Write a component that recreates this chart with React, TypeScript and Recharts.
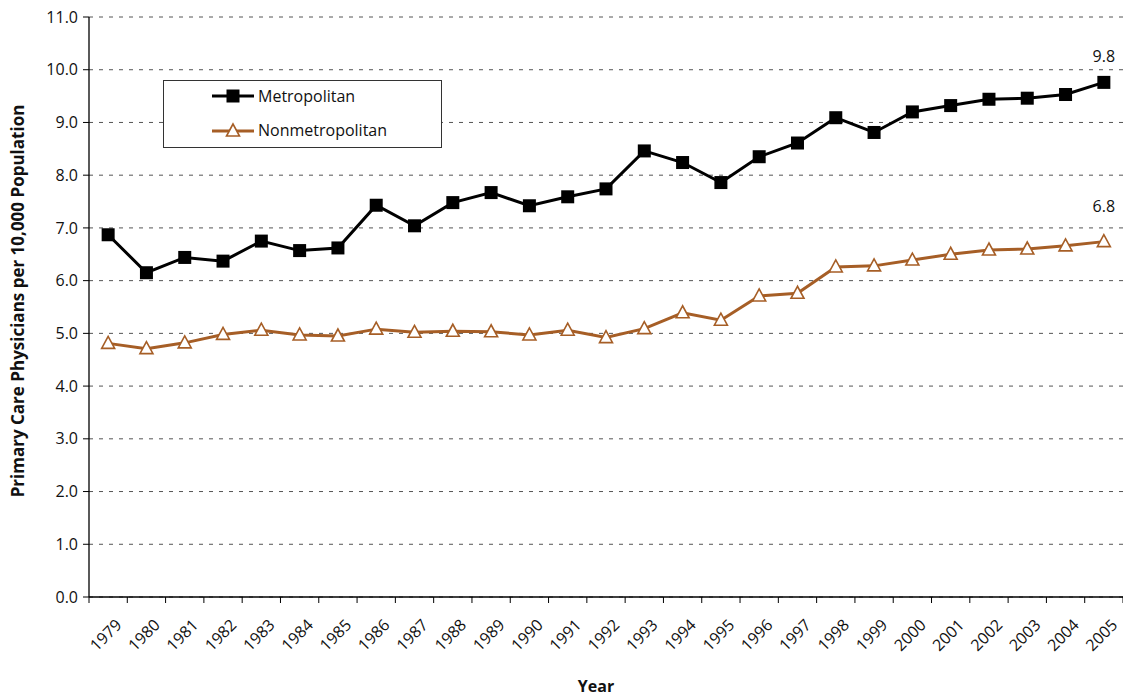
import React from 'react';
import { LineChart, Line, XAxis, YAxis, CartesianGrid, Legend, LabelList } from 'recharts';

const years = [
  1979, 1980, 1981, 1982, 1983, 1984, 1985, 1986, 1987, 1988, 1989, 1990, 1991, 1992,
  1993, 1994, 1995, 1996, 1997, 1998, 1999, 2000, 2001, 2002, 2003, 2004, 2005,
];
const metropolitan = [
  6.87, 6.15, 6.44, 6.37, 6.75, 6.57, 6.62, 7.43, 7.04, 7.48, 7.67, 7.42, 7.59, 7.74,
  8.46, 8.24, 7.86, 8.35, 8.61, 9.09, 8.81, 9.2, 9.32, 9.44, 9.46, 9.53, 9.76,
];
const nonmetropolitan = [
  4.81, 4.71, 4.82, 4.98, 5.06, 4.97, 4.95, 5.08, 5.02, 5.04, 5.03, 4.97, 5.06, 4.92,
  5.09, 5.39, 5.25, 5.71, 5.76, 6.26, 6.28, 6.39, 6.5, 6.58, 6.6, 6.66, 6.74,
];
const endLabels = { metro: '9.8', nonmetro: '6.8' };
const yTicks = [0, 1, 2, 3, 4, 5, 6, 7, 8, 9, 10, 11];
// tick marks sit on the year boundaries, labels go in between
const xBoundaries = [...years.map((y) => y - 0.5), years[years.length - 1] + 0.5];

const data = years.map((year, i) => ({
  year,
  metro: metropolitan[i],
  nonmetro: nonmetropolitan[i],
}));

const W = 1123;
const H = 696;
const LEFT = 89;
const BOTTOM_H = 99;
const HALF_BAND = (W - LEFT) / years.length / 2;
const FONT = '"Open Sans", sans-serif';
const BROWN = '#A65E26';

const SquareDot = ({ cx, cy }: any) => (
  <rect x={cx - 6.5} y={cy - 6.5} width={13} height={13} fill="#000" />
);

const TriangleDot = ({ cx, cy }: any) => (
  <polygon
    points={`${cx},${cy - 7} ${cx - 6.5},${cy + 5} ${cx + 6.5},${cy + 5}`}
    fill="#fff"
    stroke={BROWN}
    strokeWidth={1.6}
  />
);

const YearTick = ({ x, y, payload }: any) => {
  const year = payload.value + 0.5;
  if (year > years[years.length - 1]) return null;
  const tx = x + HALF_BAND + 14.5;
  const ty = y + 23;
  return (
    <text x={tx} y={ty} textAnchor="end" transform={`rotate(-45 ${tx} ${ty})`}
      fontFamily={FONT} fontSize={16} fill="#111">
      {year}
    </text>
  );
};

const lastLabel = (text: string, lift: number) => (props: any) => {
  const { x, y, index } = props;
  if (index !== years.length - 1) return null;
  return (
    <text x={x} y={y - lift} textAnchor="middle" fontFamily={FONT} fontSize={16} fill="#111">
      {text}
    </text>
  );
};

const LegendBox = () => (
  <div style={{
    width: 279, height: 68, border: '1px solid #333', background: '#fff',
    fontFamily: FONT, fontSize: 16, color: '#111', boxSizing: 'border-box',
  }}>
    <div style={{ display: 'flex', alignItems: 'center', position: 'absolute', left: 49, top: 5 }}>
      <svg width={44} height={20}>
        <line x1={0} y1={10} x2={42} y2={10} stroke="#000" strokeWidth={3} />
        <rect x={14.5} y={3.5} width={13} height={13} fill="#000" />
      </svg>
      <span style={{ marginLeft: 2 }}>Metropolitan</span>
    </div>
    <div style={{ display: 'flex', alignItems: 'center', position: 'absolute', left: 49, top: 39 }}>
      <svg width={44} height={20}>
        <line x1={0} y1={11} x2={42} y2={11} stroke={BROWN} strokeWidth={3} />
        <polygon points="21,4 14.5,16 27.5,16" fill="#fff" stroke={BROWN} strokeWidth={1.6} />
      </svg>
      <span style={{ marginLeft: 2 }}>Nonmetropolitan</span>
    </div>
  </div>
);

const YLabel = () => (
  <text x={17} y={301} transform="rotate(-90 17 301)" textAnchor="middle"
    dominantBaseline="central" fontFamily={FONT} fontSize={17} fontWeight="bold" fill="#111">
    Primary Care Physicians per 10,000 Population
  </text>
);

const XLabel = () => (
  <text x={596} y={692} textAnchor="middle" fontFamily={FONT} fontSize={16} fontWeight="bold" fill="#111">
    Year
  </text>
);

export default function App() {
  return (
    <div style={{ position: 'absolute', left: 0, top: 0, background: '#fff' }}>
      <LineChart width={W} height={H} data={data} margin={{ top: 17, right: 0, bottom: 0, left: 0 }}>
        <CartesianGrid vertical={false} stroke="#555" strokeDasharray="4 6" />
        <XAxis
          dataKey="year"
          type="number"
          domain={[xBoundaries[0], xBoundaries[xBoundaries.length - 1]]}
          ticks={xBoundaries}
          interval={0}
          height={BOTTOM_H}
          tickSize={6}
          tickMargin={0}
          stroke="#000"
          axisLine={{ stroke: '#000', strokeWidth: 1.3 }}
          tickLine={{ stroke: '#000' }}
          tick={<YearTick />}
          label={<XLabel />}
        />
        <YAxis
          domain={[0, 11]}
          ticks={yTicks}
          interval={0}
          width={LEFT}
          tickSize={6}
          tickMargin={5}
          axisLine={{ stroke: '#000', strokeWidth: 1.3 }}
          tickLine={{ stroke: '#000' }}
          tickFormatter={(v: number) => v.toFixed(1)}
          tick={{ fontFamily: FONT, fontSize: 16, fill: '#111' }}
          label={<YLabel />}
        />
        <Legend
          layout="vertical"
          align="center"
          verticalAlign="middle"
          content={<LegendBox />}
          wrapperStyle={{ position: 'absolute', left: 163, top: 80, width: 279, height: 68 }}
        />
        <Line
          dataKey="metro"
          name="Metropolitan"
          stroke="#000"
          strokeWidth={3}
          dot={<SquareDot />}
          activeDot={false}
          isAnimationActive={false}
        >
          <LabelList dataKey="metro" content={lastLabel(endLabels.metro, 20)} />
        </Line>
        <Line
          dataKey="nonmetro"
          name="Nonmetropolitan"
          stroke={BROWN}
          strokeWidth={3}
          dot={<TriangleDot />}
          activeDot={false}
          isAnimationActive={false}
        >
          <LabelList dataKey="nonmetro" content={lastLabel(endLabels.nonmetro, 30)} />
        </Line>
      </LineChart>
    </div>
  );
}
